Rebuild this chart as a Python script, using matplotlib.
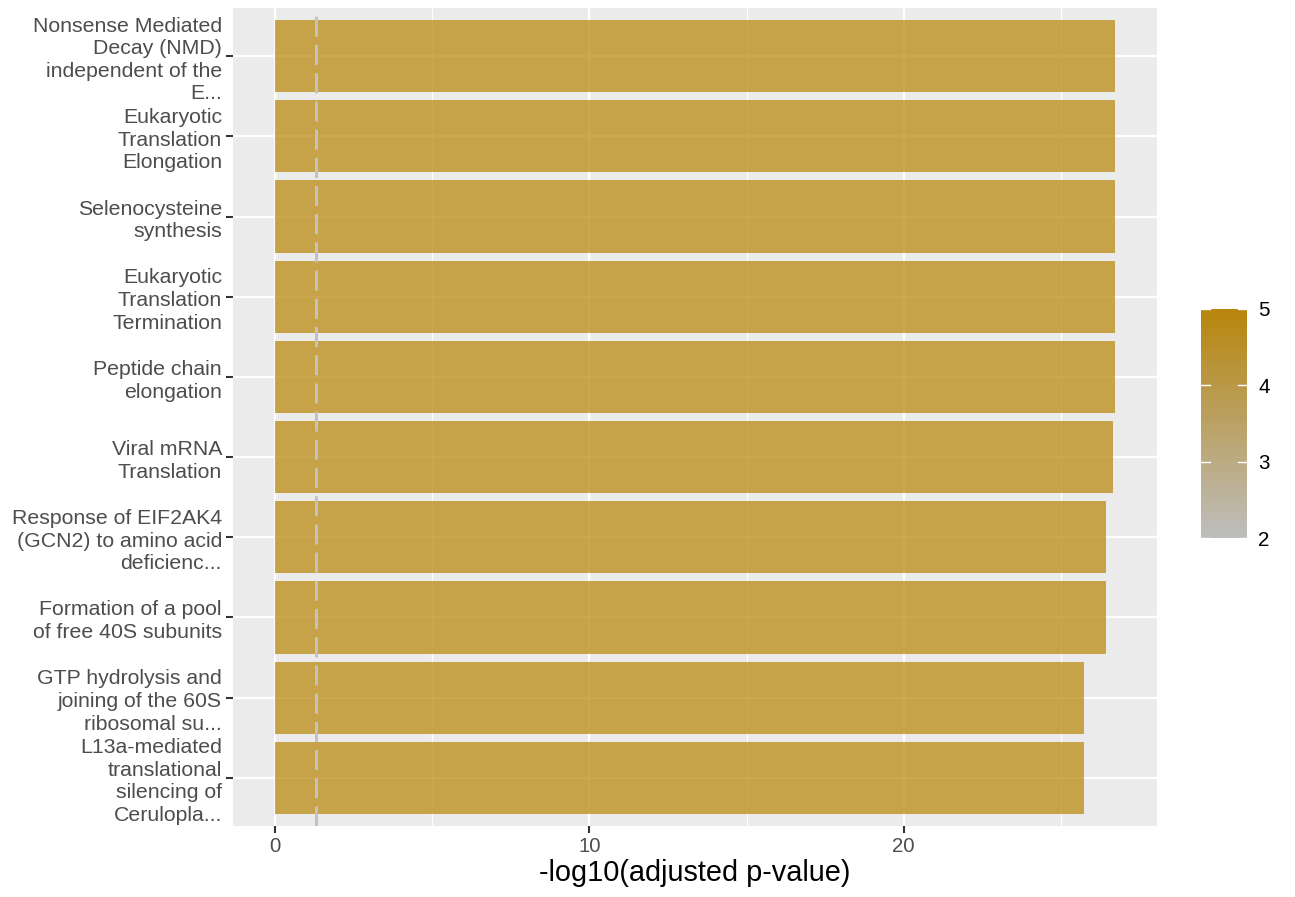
import matplotlib
matplotlib.use("Agg")
import matplotlib.pyplot as plt
import numpy as np
from matplotlib.colors import LinearSegmentedColormap, Normalize
from matplotlib.ticker import MultipleLocator

plt.rcParams['font.family'] = ['Liberation Sans', 'DejaVu Sans']

labels = [
    "Nonsense Mediated\nDecay (NMD)\nindependent of the\nE...",
    "Eukaryotic\nTranslation\nElongation",
    "Selenocysteine\nsynthesis",
    "Eukaryotic\nTranslation\nTermination",
    "Peptide chain\nelongation",
    "Viral mRNA\nTranslation",
    "Response of EIF2AK4\n(GCN2) to amino acid\ndeficienc...",
    "Formation of a pool\nof free 40S subunits",
    "GTP hydrolysis and\njoining of the 60S\nribosomal su...",
    "L13a-mediated\ntranslational\nsilencing of\nCeruloplа...".replace("а", "a"),
]
values = [26.72, 26.72, 26.72, 26.72, 26.72, 26.66, 26.43, 26.43, 25.73, 25.73]
color_vals = [5, 5, 5, 5, 5, 5, 5, 5, 5, 5]
xticks = [0, 10, 20]
cbar_ticks = [2, 3, 4, 5]
threshold = -np.log10(0.05)

cmap = LinearSegmentedColormap.from_list("gg", ["#BEBEBE", "#B8860B"])
norm = Normalize(vmin=2, vmax=5)

fig = plt.figure(figsize=(12.95, 8.97), dpi=100)
ax = fig.add_axes([233/1295, 1-826/897, (1157-233)/1295, (826-8)/897])
ax.set_facecolor("#EBEBEB")

n = len(labels)
ypos = np.arange(n)[::-1]  # top category first
ax.set_axisbelow(True)
ax.grid(True, which="major", color="white", linewidth=1.6)
ax.grid(True, which="minor", axis="x", color="white", linewidth=0.8)
ax.xaxis.set_minor_locator(MultipleLocator(5))

ax.barh(ypos, values, height=0.9, color=[cmap(norm(v)) for v in color_vals],
        alpha=0.72, linewidth=0, zorder=2)
ax.axvline(threshold, color="#C2C2C2", linestyle=(0, (6.7, 2.7)), linewidth=2.16,
           zorder=3)

xmax = max(values)
ax.set_xlim(-0.05*xmax, 1.05*xmax)
ax.set_ylim(-0.6, n - 0.4)
ax.set_xticks(xticks)
ax.set_yticks(ypos)
ax.set_yticklabels(labels, fontsize=15.3, color="#4D4D4D", linespacing=1.24)
ax.tick_params(axis="x", labelsize=14.6, labelcolor="#4D4D4D", color="#333333",
               length=5, width=1.5, pad=3)
ax.tick_params(axis="y", color="#333333", length=5, width=1.5, pad=3)
ax.tick_params(which="minor", length=0)
for s in ax.spines.values():
    s.set_visible(False)
ax.set_xlabel("-log10(adjusted p-value)", fontsize=20.8, color="black", labelpad=2)

# colorbar
cax = fig.add_axes([1201/1295, 1-538/897, 46/1295, (538-309)/897])
grad = np.linspace(2, 5, 256).reshape(-1, 1)
cax.imshow(grad, aspect="auto", cmap=cmap, norm=norm, origin="lower",
           extent=[0, 1, 2, 5])
for t in cbar_ticks:
    cax.plot([0, 0.2], [t, t], color="white", linewidth=1)
    cax.plot([0.8, 1], [t, t], color="white", linewidth=1)
cax.set_xlim(0, 1)
cax.set_ylim(2, 5)
cax.set_xticks([])
cax.yaxis.tick_right()
cax.set_yticks(cbar_ticks)
cax.tick_params(axis="y", length=0, labelsize=14.8, labelcolor="black", pad=8)
for s in cax.spines.values():
    s.set_visible(False)

fig.savefig("out.png", dpi=100)
